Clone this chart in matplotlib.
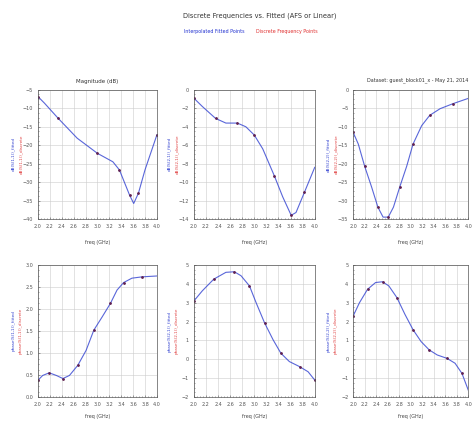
import numpy as np
import matplotlib
matplotlib.use("Agg")
import matplotlib.pyplot as plt
from matplotlib.ticker import MultipleLocator

# traced curves, freq in GHz
x_tl = [2.0, 2.11, 2.34, 2.66, 3.0, 3.26, 3.37, 3.46, 3.54, 3.61, 3.69, 3.8, 4.0]
y_tl = [-6.8, -8.6, -12.7, -18.1, -22.2, -24.5, -26.7, -30.3, -33.5, -35.8, -33.0, -26.7, -17.2]

x_tm = [2.0, 2.14, 2.36, 2.53, 2.72, 2.86, 3.0, 3.14, 3.33, 3.47, 3.61, 3.69, 3.83, 4.0]
y_tm = [-0.9, -1.8, -3.1, -3.6, -3.6, -4.0, -4.9, -6.4, -9.3, -11.6, -13.6, -13.3, -11.1, -8.4]

x_tr = [2.0, 2.09, 2.2, 2.32, 2.43, 2.52, 2.61, 2.7, 2.81, 2.93, 3.04, 3.19, 3.33, 3.51, 3.74, 4.0]
y_tr = [-11.5, -14.7, -20.7, -26.3, -31.8, -34.5, -34.5, -31.8, -26.3, -20.7, -14.7, -9.7, -6.9, -5.1, -3.7, -2.3]

x_bl = [2.0, 2.08, 2.19, 2.31, 2.42, 2.53, 2.67, 2.81, 2.94, 3.08, 3.22, 3.33, 3.44, 3.58, 3.75, 4.0]
y_bl = [0.38, 0.49, 0.55, 0.49, 0.42, 0.49, 0.72, 1.06, 1.52, 1.82, 2.13, 2.43, 2.60, 2.70, 2.73, 2.75]

x_bm = [2.0, 2.14, 2.33, 2.53, 2.67, 2.78, 2.92, 3.03, 3.17, 3.31, 3.44, 3.58, 3.75, 3.89, 4.0]
y_bm = [3.09, 3.63, 4.25, 4.61, 4.64, 4.43, 3.89, 3.0, 1.93, 1.04, 0.32, -0.12, -0.39, -0.66, -1.1]

x_br = [2.0, 2.11, 2.25, 2.39, 2.51, 2.62, 2.76, 2.9, 3.04, 3.18, 3.32, 3.46, 3.63, 3.77, 3.89, 4.0]
y_br = [2.29, 3.0, 3.71, 4.07, 4.11, 3.89, 3.27, 2.38, 1.57, 0.94, 0.5, 0.23, 0.05, -0.21, -0.75, -1.64]

ylims = [(-40, -5, 5), (-14, 0, 2), (-35, 0, 5), (0, 3, 0.5), (-2, 5, 1), (-2, 5, 1)]
xticks = [2.0, 2.2, 2.4, 2.6, 2.8, 3.0, 3.2, 3.4, 3.6, 3.8, 4.0]
fitted_labels = ["dB(S(1,1))_fitted", "dB(S(2,1))_fitted", "dB(S(2,2))_fitted",
                 "phase(S(1,1))_fitted", "phase(S(2,1))_fitted", "phase(S(2,2))_fitted"]
disc_labels = ["dB(S(1,1))_discrete", "dB(S(2,1))_discrete", "dB(S(2,2))_discrete",
               "phase(S(1,1))_discrete", "phase(S(2,1))_discrete", "phase(S(2,2))_discrete"]

series = [(x_tl, y_tl), (x_tm, y_tm), (x_tr, y_tr), (x_bl, y_bl), (x_bm, y_bm), (x_br, y_br)]

fig = plt.figure(figsize=(4.74, 4.26), dpi=100)
cols = [(0.080, 0.251), (0.409, 0.255), (0.745, 0.243)]
rows = [(0.486, 0.303), (0.068, 0.310)]

fig.text(0.547, 0.962, "Discrete Frequencies vs. Fitted (AFS or Linear)", ha="center",
         va="center", fontsize=4.8, color="#333333")
fig.text(0.453, 0.925, "Interpolated Fitted Points", ha="center", va="center",
         fontsize=3.4, color="#2030d0")
fig.text(0.605, 0.925, "Discrete Frequency Points", ha="center", va="center",
         fontsize=3.4, color="#e03030")

for i, (xs, ys) in enumerate(series):
    r, c = divmod(i, 3)
    x0, w = cols[c]
    y0, h = rows[r]
    ax = fig.add_axes([x0, y0, w, h])
    lo, hi, st = ylims[i]
    ax.plot(xs, ys, color="#3040d0", lw=0.8, alpha=0.8)
    ax.plot(xs[::2], ys[::2], ls="none", marker="o", ms=1.0, color="#602050")
    ax.set_xlim(2.0, 4.0)
    ax.set_ylim(lo, hi)
    ax.set_xticks(xticks)
    ax.set_xticklabels([f"{t:.1f}" for t in xticks])
    ax.yaxis.set_major_locator(MultipleLocator(st))
    ax.xaxis.set_minor_locator(MultipleLocator(0.05))
    ax.yaxis.set_minor_locator(MultipleLocator(st / 4))
    ax.tick_params(which="both", direction="in", labelsize=3.5, colors="#555555",
                   length=1.5, width=0.4)
    ax.tick_params(which="minor", length=0.8)
    ax.grid(True, which="major", color="#cccccc", lw=0.4)
    for s in ax.spines.values():
        s.set_linewidth(0.5)
        s.set_color("#555555")
    ax.set_xlabel("freq (GHz)", fontsize=3.5, color="#444444", labelpad=8 if r == 0 else 5)
    fig.text(x0 - 0.052, y0 + h / 2, fitted_labels[i], rotation=90, ha="center",
             va="center", fontsize=3, color="#3040d0")
    fig.text(x0 - 0.036, y0 + h / 2, disc_labels[i], rotation=90, ha="center",
             va="center", fontsize=3, color="#e04040")

fig.text(0.205, 0.808, "Magnitude (dB)", ha="center", va="center", fontsize=4,
         color="#333333")
fig.text(0.988, 0.812, "Dataset: guest_block01_x - May 21, 2014", ha="right", va="center",
         fontsize=3.5, color="#333333")

fig.savefig("out.png", dpi=100)
